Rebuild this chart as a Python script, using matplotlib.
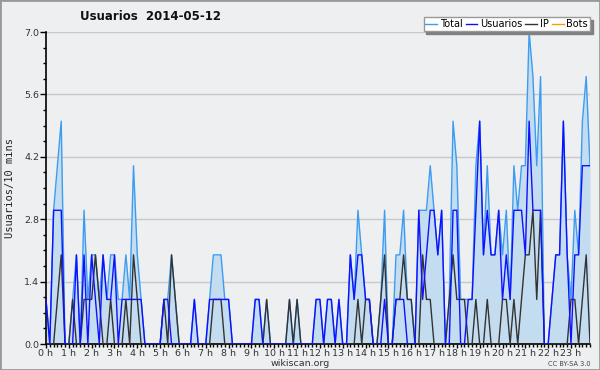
import numpy as np
import matplotlib.pyplot as plt
from matplotlib.lines import Line2D
from matplotlib.patches import Rectangle
from matplotlib.ticker import MultipleLocator

# users per 10-minute slot, 144 slots over the day
total = [1, 0, 3, 4, 5, 0, 0, 1, 2, 0, 3, 1, 2, 2, 1, 2, 1, 2, 2, 1,
         1, 2, 1, 4, 2, 1, 0, 0, 0, 0, 0, 1, 1, 2, 1, 0, 0, 0, 0, 1,
         0, 0, 0, 1, 2, 2, 2, 1, 1, 0, 0, 0, 0, 0, 0, 1, 1, 0, 1, 0,
         0, 0, 0, 0, 1, 0, 1, 0, 0, 0, 0, 1, 1, 0, 1, 1, 0, 1, 0, 0,
         2, 1, 3, 2, 1, 1, 0, 0, 1, 3, 0, 0, 2, 2, 3, 1, 1, 0, 3, 3,
         3, 4, 3, 2, 3, 0, 1, 5, 4, 1, 1, 1, 1, 4, 5, 2, 4, 2, 2, 3,
         2, 3, 1, 4, 3, 4, 4, 7, 6, 4, 6, 0, 0, 1, 2, 2, 5, 2, 1, 3,
         2, 5, 6, 4]
usuarios = [1, 0, 3, 3, 3, 0, 0, 0, 2, 0, 2, 0, 2, 1, 0, 2, 1, 1, 2, 0,
            1, 1, 1, 1, 1, 1, 0, 0, 0, 0, 0, 1, 1, 0, 0, 0, 0, 0, 0, 1,
            0, 0, 0, 1, 1, 1, 1, 1, 1, 0, 0, 0, 0, 0, 0, 1, 1, 0, 0, 0,
            0, 0, 0, 0, 0, 0, 0, 0, 0, 0, 0, 1, 1, 0, 1, 1, 0, 1, 0, 0,
            2, 1, 2, 2, 1, 1, 0, 0, 0, 1, 0, 0, 1, 1, 1, 0, 0, 0, 3, 1,
            2, 3, 3, 2, 3, 0, 0, 3, 3, 0, 0, 1, 1, 3, 5, 2, 3, 2, 2, 3,
            1, 2, 1, 3, 3, 3, 2, 5, 3, 3, 3, 0, 0, 1, 2, 2, 5, 2, 0, 2,
            2, 4, 4, 4]
ip = [0, 0, 0, 1, 2, 0, 0, 1, 0, 0, 1, 1, 1, 2, 1, 0, 0, 1, 0, 0,
      0, 1, 0, 2, 1, 0, 0, 0, 0, 0, 0, 1, 0, 2, 1, 0, 0, 0, 0, 0,
      0, 0, 0, 0, 1, 1, 1, 0, 0, 0, 0, 0, 0, 0, 0, 0, 0, 0, 1, 0,
      0, 0, 0, 0, 1, 0, 1, 0, 0, 0, 0, 0, 0, 0, 0, 0, 0, 0, 0, 0,
      0, 0, 1, 0, 1, 1, 0, 0, 1, 2, 0, 0, 1, 1, 2, 1, 1, 0, 0, 2,
      1, 1, 0, 0, 0, 0, 1, 2, 1, 1, 1, 0, 0, 1, 0, 0, 1, 0, 0, 0,
      1, 1, 0, 1, 0, 1, 2, 2, 3, 1, 3, 0, 0, 0, 0, 0, 0, 0, 1, 1,
      0, 1, 2, 0]
bots = [0] * 144

hour_labels = [f"{h} h" for h in range(24)]
y_ticks = [0.0, 1.4, 2.8, 4.2, 5.6, 7.0]
title = "Usuarios  2014-05-12"

bg = "#eeeff0"
c_total = "#3c9cf0"
c_fill = "#c4dcf0"
c_user = "#1010ff"
c_ip = "#333333"
c_bots = "#ff9900"

fig = plt.figure(figsize=(6, 3.7), dpi=100, facecolor=bg)
ax = fig.add_axes([46 / 600, 1 - 344 / 370, 544 / 600, 312 / 370])
ax.set_facecolor(bg)

x = np.arange(len(total))
ax.fill_between(x, total, color=c_fill, lw=0, zorder=1)
ax.plot(x, total, color=c_total, lw=1.0, zorder=2)
ax.plot(x, bots, color=c_bots, lw=1.0, zorder=2)
ax.plot(x, ip, color=c_ip, lw=1.0, zorder=3)
ax.plot(x, usuarios, color=c_user, lw=1.0, zorder=4)

ax.set_xlim(0, 143)
ax.set_ylim(0, 7.0)
ax.set_yticks(y_ticks)
ax.set_yticklabels([f"{v:.1f}" for v in y_ticks])
ax.yaxis.set_minor_locator(MultipleLocator(0.35))
ax.set_xticks(np.arange(0, 144, 6))
ax.set_xticklabels(hour_labels)
ax.xaxis.set_minor_locator(MultipleLocator(1))
ax.grid(axis="y", color="#c8c8c8", lw=1.0)
ax.set_axisbelow(True)

for s in ["top", "right"]:
    ax.spines[s].set_visible(False)
for s in ["left", "bottom"]:
    ax.spines[s].set_linewidth(1.2)

ax.tick_params(axis="both", which="major", labelsize=6.8, length=4, width=1,
               pad=1, colors="black", labelcolor="#333333")
ax.tick_params(axis="both", which="minor", length=2.5, width=1)
ax.tick_params(axis="x", which="major", length=3, pad=0.5)

ax.set_ylabel("Usuarios/10 mins", family="DejaVu Sans Mono", fontsize=7.5,
              color="#222222")
ax.yaxis.label.set(va="center", ha="center")
ax.yaxis.set_label_coords(-0.066, 0.5)

fig.text(151 / 600, 1 - 16 / 370, title, ha="center", va="center",
         fontsize=8.5, fontweight="bold", color="#111111")
fig.text(300 / 600, 1 - 363 / 370, "wikiscan.org", ha="center", va="center",
         fontsize=6.8, color="#333333")
fig.text(591 / 600, 1 - 364 / 370, "CC BY-SA 3.0", ha="right", va="center",
         fontsize=4.8, color="#444444")

handles = [Line2D([], [], color=c_total, lw=1),
           Line2D([], [], color=c_user, lw=1),
           Line2D([], [], color=c_ip, lw=1),
           Line2D([], [], color=c_bots, lw=1)]
leg = fig.legend(handles, ["Total", "Usuarios", "IP", "Bots"], ncol=4,
                 loc="upper right", bbox_to_anchor=(590 / 600, 1 - 17 / 370),
                 fontsize=7, frameon=True, fancybox=False,
                 shadow={"color": "#808080", "alpha": 1.0},
                 handlelength=1.2, handletextpad=0.3, columnspacing=0.3,
                 borderpad=0.2, borderaxespad=0)
leg.get_frame().set_edgecolor("#999999")
leg.get_frame().set_facecolor("white")
leg.get_frame().set_linewidth(1)

fig.patches.append(Rectangle((0, 0), 1, 1, transform=fig.transFigure,
                             fill=False, edgecolor="#999999", lw=2))

fig.savefig("out.png", dpi=100, facecolor=bg)
